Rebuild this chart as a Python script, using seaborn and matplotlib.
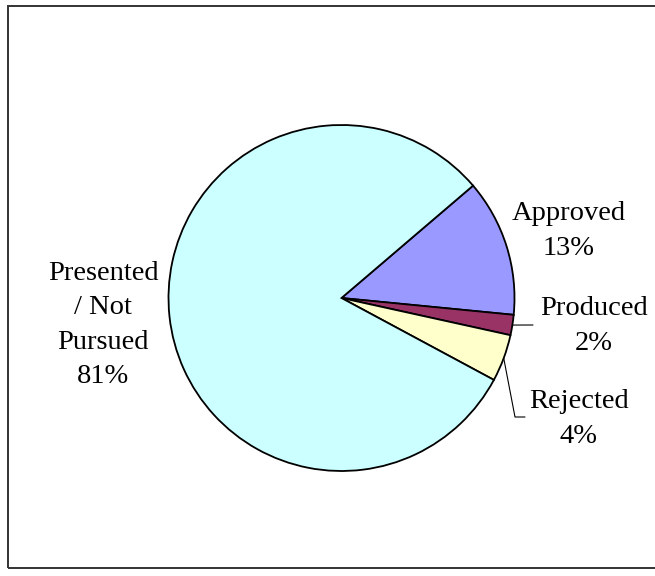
import numpy as np
import matplotlib
matplotlib.use("Agg")
import matplotlib.pyplot as plt
import seaborn as sns
from matplotlib.patches import Rectangle

# ---- data ----
categories = ["Approved", "Produced", "Rejected", "Presented\n/ Not\nPursued"]
shares = [12.8, 1.9, 4.4, 80.9]
colors = ["#9999FF", "#993366", "#FFFFCC", "#CCFFFF"]

sns.set_theme(style="white")
plt.rcParams["font.family"] = ["Liberation Serif", "DejaVu Serif"]

W, H = 655, 576
fig = plt.figure(figsize=(W / 100, H / 100), dpi=100)
fig.patch.set_facecolor("white")

# pie geometry (pixels)
cx, cy, R = 341.5, 298.0, 173.0
ax = fig.add_axes([0, 0, 1, 1])

start = 40.5
wedges, _ = ax.pie(shares, colors=colors, startangle=start, counterclock=False,
                   radius=1.0, center=(0, 0),
                   wedgeprops=dict(edgecolor="black", linewidth=1.3))
ax.set_xlim(-cx / R, (W - cx) / R)
ax.set_ylim(-(H - cy) / R, cy / R)
ax.set_aspect("equal")
ax.axis("off")


def px(x, y):
    return (x - cx) / R, (cy - y) / R


# label centres (pixels)
label_pos = [(569, 231), (594, 326), (579, 419), (103, 325)]
fs = 20.5
for cat, val, (lx, ly) in zip(categories, shares, label_pos):
    x, y = px(lx, ly)
    ax.text(x, y, f"{cat}\n{round(val):.0f}%", ha="center", va="center",
            fontsize=fs, color="black", linespacing=1.5)

# leader lines for small slices
def mid_angle(i):
    cum = np.cumsum([0] + shares)
    a0 = start - cum[i] * 3.6
    a1 = start - cum[i + 1] * 3.6
    return np.deg2rad((a0 + a1) / 2)

a = mid_angle(1)
p0 = (np.cos(a), np.sin(a))
p1 = px(533, 325)
ax.plot([p0[0], p1[0]], [p0[1], p1[1]], color="black", lw=0.8)

a = mid_angle(2)
p0 = (np.cos(a), np.sin(a))
p1 = px(515, 417)
p2 = px(525, 417)
ax.plot([p0[0], p1[0], p2[0]], [p0[1], p1[1], p2[1]], color="black", lw=0.8)

# outer frame (right edge cropped off)
fig.patches.append(Rectangle((8 / W, 1 - 568 / H), 1.2, (568 - 6) / H,
                             transform=fig.transFigure, fill=False,
                             edgecolor="#333333", linewidth=1.4))

fig.savefig("out.png", dpi=100, facecolor="white")
